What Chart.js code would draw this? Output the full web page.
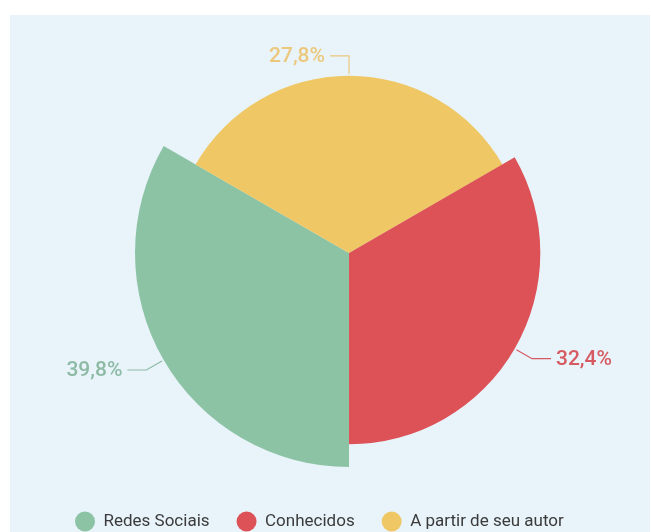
<!DOCTYPE html>
<html>
<head>
<meta charset="utf-8">
<script src="https://cdn.jsdelivr.net/npm/chart.js@4"></script>
<style>
  html, body { margin: 0; padding: 0; background: #fff; overflow: hidden; }
  .panel { position: absolute; left: 10px; top: 15px; width: 640px; height: 517px; background: #e8f3fa; }
  #wrap { position: absolute; left: 0; top: 0; width: 651px; height: 540px; }
</style>
</head>
<body>
<div class="panel"></div>
<div id="wrap"><canvas id="pie" width="651" height="540"></canvas></div>
<script>
// slices in drawing order, clockwise from the bottom
const categories = ["Redes Sociais", "A partir de seu autor", "Conhecidos"];
const values = [39.8, 27.8, 32.4];
// order shown in the legend
const legendOrder = ["Redes Sociais", "Conhecidos", "A partir de seu autor"];

const sliceColors = ["#8cc3a5", "#efc865", "#dc5256"];
const labelColors = ["#8dbaa4", "#ebc87c", "#d65a62"];

function formatPct(v) {
  return v.toFixed(1).replace(".", ",") + "%";
}

// percentage labels outside the slices, with a small elbow leader
const outsideLabels = {
  id: "outsideLabels",
  afterDatasetsDraw(chart) {
    const ctx = chart.ctx;
    const meta = chart.getDatasetMeta(0);
    ctx.save();
    ctx.font = "500 21px Roboto";
    ctx.textBaseline = "middle";
    ctx.lineWidth = 1.2;
    meta.data.forEach((arc, i) => {
      const p = arc.getProps(["x", "y", "startAngle", "endAngle", "outerRadius"], true);
      const mid = (p.startAngle + p.endAngle) / 2;
      const cos = Math.cos(mid), sin = Math.sin(mid);
      const x0 = p.x + cos * (p.outerRadius + 2);
      const y0 = p.y + sin * (p.outerRadius + 2);
      const x1 = p.x + cos * (p.outerRadius + 20);
      const y1 = p.y + sin * (p.outerRadius + 20);
      const dir = cos > 0.01 ? 1 : -1;
      const x2 = x1 + dir * 19;

      ctx.strokeStyle = labelColors[i];
      ctx.fillStyle = labelColors[i];
      ctx.beginPath();
      ctx.moveTo(x0, y0);
      ctx.lineTo(x1, y1);
      ctx.lineTo(x2, y1);
      ctx.stroke();

      ctx.textAlign = dir > 0 ? "left" : "right";
      ctx.fillText(formatPct(values[i]), x2 + dir * 5, y1 + 1);
    });
    ctx.restore();
  }
};

new Chart(document.getElementById("pie"), {
  type: "polarArea",
  data: {
    labels: categories,
    datasets: [{
      data: values,
      backgroundColor: sliceColors,
      borderWidth: 0
    }]
  },
  options: {
    responsive: false,
    animation: false,
    layout: { padding: { left: 48, right: 0, top: 20, bottom: 0 } },
    scales: {
      r: {
        display: false,
        min: -30,
        max: 46,
        startAngle: 180
      }
    },
    plugins: {
      tooltip: { enabled: false },
      legend: {
        position: "bottom",
        align: "start",
        labels: {
          usePointStyle: true,
          pointStyle: "circle",
          pointStyleWidth: 20,
          boxHeight: 14,
          padding: 27,
          color: "#3b3b3b",
          font: { family: "Roboto", size: 17 },
          sort: (a, b) => legendOrder.indexOf(a.text) - legendOrder.indexOf(b.text)
        }
      }
    }
  },
  plugins: [outsideLabels]
});
</script>
</body>
</html>
